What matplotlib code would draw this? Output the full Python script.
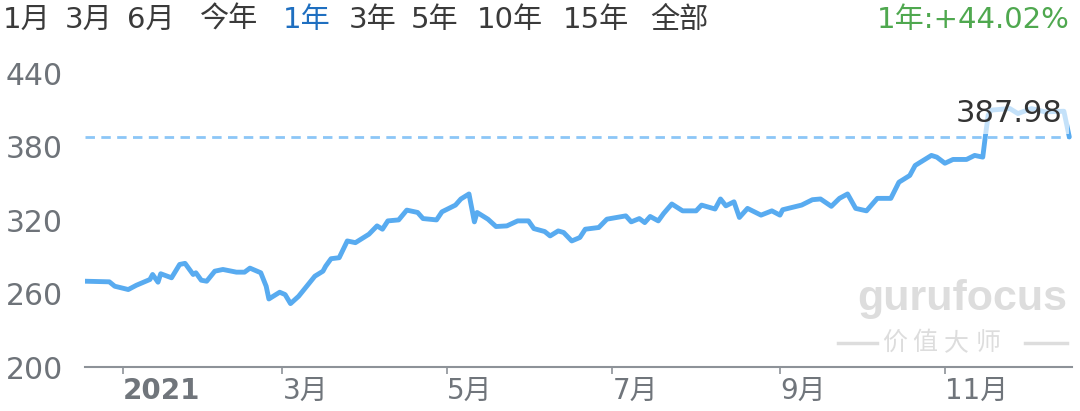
import matplotlib.pyplot as plt
from matplotlib.lines import Line2D
import pandas as pd

# price readings (approx.)
dates = ["2020-12-18", "2020-12-27", "2020-12-29", "2021-01-03", "2021-01-06", "2021-01-11",
         "2021-01-12", "2021-01-14", "2021-01-15", "2021-01-19", "2021-01-22", "2021-01-24",
         "2021-01-27", "2021-01-28", "2021-01-30", "2021-02-01", "2021-02-04", "2021-02-07",
         "2021-02-12", "2021-02-15", "2021-02-17", "2021-02-21", "2021-02-23", "2021-02-24",
         "2021-02-28", "2021-03-02", "2021-03-04", "2021-03-07", "2021-03-10", "2021-03-13",
         "2021-03-16", "2021-03-17", "2021-03-19", "2021-03-22", "2021-03-25", "2021-03-28",
         "2021-04-02", "2021-04-05", "2021-04-07", "2021-04-09", "2021-04-13", "2021-04-16",
         "2021-04-20", "2021-04-22", "2021-04-27", "2021-04-29", "2021-05-04", "2021-05-06",
         "2021-05-09", "2021-05-11", "2021-05-12", "2021-05-16", "2021-05-19", "2021-05-23",
         "2021-05-27", "2021-05-31", "2021-06-02", "2021-06-06", "2021-06-08", "2021-06-11",
         "2021-06-13", "2021-06-16", "2021-06-19", "2021-06-21", "2021-06-26", "2021-06-29",
         "2021-07-06", "2021-07-08", "2021-07-11", "2021-07-13", "2021-07-15", "2021-07-18",
         "2021-07-20", "2021-07-23", "2021-07-27", "2021-08-01", "2021-08-03", "2021-08-08",
         "2021-08-10", "2021-08-12", "2021-08-15", "2021-08-17", "2021-08-20", "2021-08-25",
         "2021-08-29", "2021-09-01", "2021-09-02", "2021-09-09", "2021-09-13", "2021-09-16",
         "2021-09-20", "2021-09-23", "2021-09-26", "2021-09-29", "2021-10-03", "2021-10-07",
         "2021-10-12", "2021-10-15", "2021-10-19", "2021-10-21", "2021-10-27", "2021-10-29",
         "2021-11-01", "2021-11-04", "2021-11-09", "2021-11-12", "2021-11-15", "2021-11-16",
         "2021-11-17", "2021-11-18", "2021-11-25", "2021-11-28", "2021-12-03", "2021-12-08",
         "2021-12-15", "2021-12-17"]
prices = [270.1, 269.6, 266.0, 263.3, 266.8, 271.5,
          275.6, 269.3, 276.2, 272.9, 283.8, 284.7,
          275.6, 277.0, 270.9, 270.1, 278.3, 279.7,
          277.5, 277.5, 280.8, 277.0, 266.0, 255.6,
          261.1, 259.2, 251.8, 257.8, 266.0, 274.2,
          278.3, 282.4, 288.5, 289.3, 303.0, 301.6,
          308.5, 315.3, 312.6, 319.4, 320.2, 328.2,
          326.3, 321.3, 320.2, 326.8, 332.3, 337.3,
          341.4, 318.6, 326.3, 320.8, 314.8, 315.3,
          319.4, 319.4, 313.1, 310.7, 307.1, 311.2,
          309.9, 303.0, 305.8, 312.6, 314.0, 320.8,
          323.5, 318.6, 321.3, 318.0, 323.0, 319.4,
          325.5, 333.2, 327.6, 327.6, 332.3, 329.1,
          337.3, 331.7, 335.0, 322.2, 329.6, 324.1,
          327.6, 324.1, 328.5, 332.3, 336.7, 337.3,
          331.3, 337.8, 341.4, 329.6, 327.6, 337.8,
          337.8, 351.0, 356.5, 364.7, 372.9, 371.5,
          366.5, 369.6, 369.6, 372.9, 371.5, 389.3,
          405.7, 409.9, 411.2, 407.1, 411.2, 408.5,
          409.0, 387.98]
last_price = 387.98
period_change = "1年:+44.02%"

menu_items = ["1月", "3月", "6月", "今年", "1年", "3年", "5年", "10年", "15年", "全部"]
menu_x = [3, 65, 127, 200, 283, 349, 411, 477, 563, 650]
active_item = "1年"

y_ticks = [200, 260, 320, 380, 440]
x_tick_dates = ["2021-01-01", "2021-03-01", "2021-05-01", "2021-07-01", "2021-09-01", "2021-11-01"]
x_tick_labels = ["2021", "3月", "5月", "7月", "9月", "11月"]

plt.rcParams['font.family'] = ['DejaVu Sans', 'Noto Sans CJK SC']

W, H = 1080, 411
fig = plt.figure(figsize=(W / 100, H / 100), dpi=100)
ax = fig.add_axes([85 / W, (H - 367) / H, 987 / W, 293.7 / H])

x = pd.to_datetime(dates)
ax.plot(x, prices, color='#58abf0', lw=3.5, solid_joinstyle='round', solid_capstyle='round', zorder=3)
ax.axhline(last_price, xmax=0.998, color='#8cc6f7', lw=2, dashes=(3.4, 2.3), zorder=2)

ax.set_ylim(200, 440)
ax.set_xlim(pd.Timestamp("2020-12-18"), pd.Timestamp("2021-12-18"))
ax.set_yticks(y_ticks)
ax.set_yticklabels([str(v) for v in y_ticks])
ax.set_xticks(pd.to_datetime(x_tick_dates))
ax.set_xticklabels(x_tick_labels, ha='left')
ax.get_xticklabels()[0].set_fontweight('bold')
ax.get_xticklabels()[0].set_fontsize(18)
ax.get_xticklabels()[0].set_color('#5d6268')

for s in ['top', 'right', 'left']:
    ax.spines[s].set_visible(False)
ax.spines['bottom'].set_color('#8d9298')
ax.spines['bottom'].set_linewidth(1.5)

ax.tick_params(axis='y', length=0, pad=16, labelsize=21.5, labelcolor='#6e7379')
ax.tick_params(axis='x', length=5, width=1.2, color='#8d9298', pad=2, labelsize=20,
               labelcolor='#70757b')

# top menu
for item, mx in zip(menu_items, menu_x):
    fig.text(mx / W, 1 - 20 / H, item, fontsize=21, va='center', ha='left',
             color='#1f6fc0' if item == active_item else '#3a3a3a')
fig.text(1070 / W, 1 - 20 / H, period_change, fontsize=21, va='center', ha='right',
         color='#4fa84f')

# last price label
fig.text(1063 / W, 1 - 113 / H, f"{last_price:.2f}", fontsize=22, va='center', ha='right',
         color='#333333',
         bbox=dict(boxstyle='square,pad=0.2', fc='white', ec='none', alpha=0.65))

# watermark
fig.text(962 / W, 1 - 310 / H, "gurufocus", fontsize=31, fontweight='bold',
         family=['Liberation Sans Narrow', 'Liberation Sans'], color='#dddddd',
         ha='center', va='baseline')
for ch, cx in zip("价值大师", [895, 925, 956, 988]):
    fig.text(cx / W, 1 - 343 / H, ch, fontsize=18, family=['Noto Sans CJK SC'],
             color='#dddddd', ha='center', va='center')
fig.add_artist(Line2D([838 / W, 877 / W], [1 - 343 / H] * 2, color='#dddddd', lw=2.5))
fig.add_artist(Line2D([1025 / W, 1067 / W], [1 - 343 / H] * 2, color='#dddddd', lw=2.5))

fig.savefig("out.png", dpi=100)
